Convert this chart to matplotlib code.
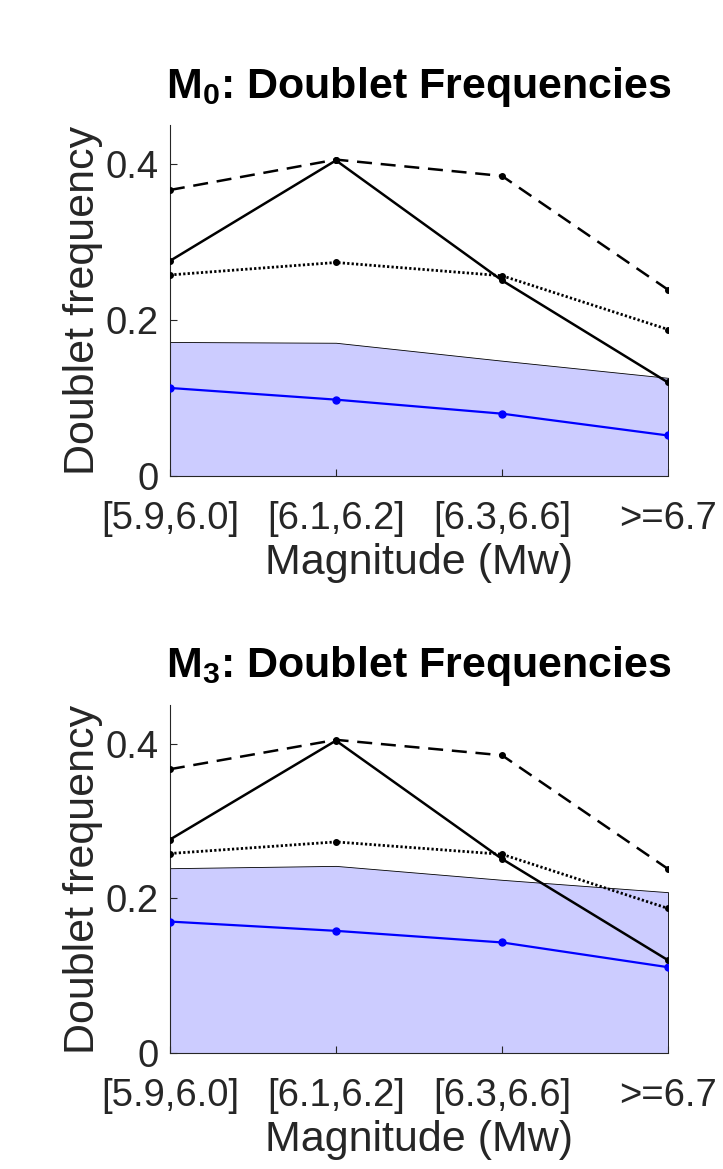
import numpy as np
import matplotlib
matplotlib.use("Agg")
import matplotlib.pyplot as plt

plt.rcParams['font.family'] = ['Liberation Sans', 'DejaVu Sans']
plt.rcParams['mathtext.fontset'] = 'custom'
plt.rcParams['mathtext.rm'] = 'Liberation Sans'
plt.rcParams['mathtext.bf'] = 'Liberation Sans:bold'

# magnitude bins
categories = ['[5.9,6.0]', '[6.1,6.2]', '[6.3,6.6]', '>=6.7']
xpos = [1, 2, 3, 4]

# M0 panel
m0_dashed = [0.367, 0.406, 0.385, 0.239]
m0_solid = [0.276, 0.405, 0.251, 0.120]
m0_dotted = [0.258, 0.274, 0.257, 0.188]
m0_band = [0.172, 0.171, 0.148, 0.126]
m0_blue = [0.113, 0.098, 0.080, 0.052]

# M3 panel
m3_dashed = [0.367, 0.405, 0.385, 0.238]
m3_solid = [0.276, 0.404, 0.251, 0.120]
m3_dotted = [0.258, 0.273, 0.257, 0.187]
m3_band = [0.239, 0.242, 0.224, 0.208]
m3_blue = [0.170, 0.158, 0.143, 0.111]

panels = [
    (r'$\mathbf{M_0}$: Doublet Frequencies', m0_dashed, m0_solid, m0_dotted, m0_band, m0_blue),
    (r'$\mathbf{M_3}$: Doublet Frequencies', m3_dashed, m3_solid, m3_dotted, m3_band, m3_blue),
]

grey = (0.15, 0.15, 0.15)

fig = plt.figure(figsize=(7.23, 11.69), dpi=100)
ax_rects = [[0.235, 0.5928, 0.689, 0.300], [0.235, 0.0992, 0.689, 0.2977]]

for rect, (title, dashed, solid, dotted, band, blue) in zip(ax_rects, panels):
    ax = fig.add_axes(rect)
    ax.fill_between(xpos, 0, band, facecolor=(0.8, 0.8, 1.0), edgecolor='k',
                    linewidth=0.6, zorder=1)
    ax.plot(xpos, blue, color=(0, 0, 1), lw=1.6, marker='.', ms=10, zorder=3)
    ax.plot(xpos, dashed, color='k', lw=1.8, ls=(0, (6, 3.5)), marker='.', ms=8, zorder=4)
    ax.plot(xpos, solid, color='k', lw=1.8, ls='-', marker='.', ms=8, zorder=4)
    ax.plot(xpos, dotted, color='k', lw=2.0, ls=(0, (0.8, 0.8)), marker='.', ms=8, zorder=4)

    ax.set_xlim(1, 4)
    ax.set_ylim(0, 0.45)
    ax.set_xticks(xpos)
    ax.set_xticklabels(categories)
    ax.set_yticks([0, 0.2, 0.4])
    ax.set_yticklabels(['0', '0.2', '0.4'])
    ax.spines['top'].set_visible(False)
    ax.spines['right'].set_visible(False)
    for s in ['left', 'bottom']:
        ax.spines[s].set_color(grey)
        ax.spines[s].set_linewidth(0.8)
    ax.tick_params(direction='in', length=5, width=0.8, colors=grey,
                   labelsize=27.5, labelcolor=grey)
    ax.tick_params(axis='x', pad=18)
    ax.tick_params(axis='y', pad=8)
    ax.set_xlabel('Magnitude (Mw)', fontsize=31, color=grey, labelpad=4)
    ax.set_ylabel('Doublet frequency', fontsize=31, color=grey, labelpad=2)
    ax.set_title(title, fontsize=31, fontweight='bold', pad=20)

fig.savefig('out.png', dpi=100)
